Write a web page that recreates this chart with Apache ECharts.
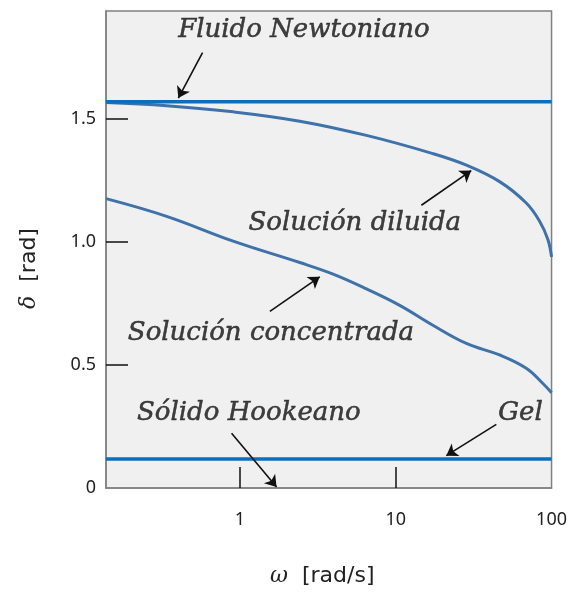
<!DOCTYPE html>
<html>
<head>
<meta charset="utf-8">
<script src="https://cdn.jsdelivr.net/npm/echarts@6/dist/echarts.min.js"></script>
<style>
html,body{margin:0;padding:0;background:#fff;}
#main{width:570px;height:592px;}
</style>
</head>
<body>
<div id="main"></div>
<script>
// ---- data ----
const xTickLabels = [1, 10, 100];
const xTickMarks = [1, 10];
const yTickLabels = ['0', '0.5', '1.0', '1.5'];
const yTickMarks = [0.5, 1.0, 1.5];
const newtonian = [[0.138, 1.5708], [100, 1.5708]];
const hookean = [[0.138, 0.118], [100, 0.118]];
const diluteOmega = [0.138, 0.338, 0.904, 2.42, 6.48, 17.3, 28.4, 46.4, 68.8, 83.8, 94.7, 100];
const diluteDelta = [1.568, 1.555, 1.530, 1.492, 1.434, 1.360, 1.313, 1.246, 1.159, 1.085, 1.011, 0.940];
const concOmega = [0.138, 0.338, 0.904, 2.42, 3.96, 6.48, 10.6, 17.3, 28.4, 46.4, 68.8, 88.0, 100];
const concDelta = [1.177, 1.105, 1.004, 0.917, 0.870, 0.810, 0.743, 0.662, 0.588, 0.541, 0.487, 0.425, 0.387];
// annotation texts: [omega, delta, text]
const labels = [
  [2.57, 1.862, 'Fluido Newtoniano'],
  [5.46, 1.076, 'Solución diluida'],
  [1.58, 0.630, 'Solución concentrada'],
  [1.14, 0.304, 'Sólido Hookeano'],
  [63.2, 0.304, 'Gel']
];
// arrows: [tailOmega, tailDelta, tipOmega, tipDelta]
const arrows = [
  [0.575, 1.771, 0.402, 1.586],
  [14.6, 1.150, 30.5, 1.291],
  [1.556, 0.7185, 3.25, 0.859],
  [0.883, 0.2228, 1.717, 0.004],
  [44.2, 0.259, 21.1, 0.1315]
];

const zip = (a, b) => a.map((v, i) => [v, b[i]]);

const chart = echarts.init(document.getElementById('main'));
const option = {
  animation: false,
  grid: {
    left: 106, top: 11, right: 18, bottom: 99,
    show: true, backgroundColor: '#f0f0f0', borderColor: '#808080', borderWidth: 1.5
  },
  xAxis: {
    type: 'log', logBase: 10, min: 0.138, max: 100,
    name: '{i|ω}  [rad/s]', nameLocation: 'middle', nameGap: 77,
    nameTextStyle: {
      fontFamily: 'DejaVu Sans', fontSize: 22, color: '#222', padding: [0, 13, 0, 0],
      rich: { i: { fontFamily: 'DejaVu Serif', fontStyle: 'italic', fontSize: 22, color: '#222' } }
    },
    axisLine: { show: true, lineStyle: { color: '#808080', width: 1.5 } },
    axisTick: { show: true, inside: true, length: 21, customValues: xTickMarks, lineStyle: { color: '#111', width: 1.5 } },
    axisLabel: {
      margin: 23, fontFamily: 'Noto Sans', fontSize: 18, color: '#222',
      customValues: xTickLabels,
      formatter: v => {
        const m = xTickLabels.find(t => Math.abs(v - t) / t < 1e-6);
        return m !== undefined ? String(m) : '';
      }
    },
    splitLine: { show: false }, minorTick: { show: false }
  },
  yAxis: {
    type: 'value', min: 0, max: 1.94, interval: 0.5,
    name: '{i|δ}  [rad]', nameLocation: 'middle', nameGap: 66,
    nameTextStyle: {
      fontFamily: 'DejaVu Sans', fontSize: 22, color: '#222', padding: [0, 38, 0, 0],
      rich: { i: { fontFamily: 'DejaVu Serif', fontStyle: 'italic', fontSize: 22, color: '#222' } }
    },
    axisLine: { show: true, lineStyle: { color: '#808080', width: 1.5 } },
    axisTick: { show: true, inside: true, length: 22, customValues: yTickMarks, lineStyle: { color: '#111', width: 1.5 } },
    axisLabel: {
      margin: 10, fontFamily: 'Noto Sans', fontSize: 18, color: '#222',
      customValues: [0, 0.5, 1.0, 1.5],
      formatter: v => {
        const idx = Math.round(v / 0.5);
        if (Math.abs(v - idx * 0.5) < 1e-6 && idx < yTickLabels.length) return yTickLabels[idx];
        return '';
      }
    },
    splitLine: { show: false }
  },
  series: [
    {
      type: 'line', data: newtonian, showSymbol: false, symbol: 'none',
      lineStyle: { color: '#0870c0', width: 3.5 }, z: 3
    },
    {
      type: 'line', data: hookean, showSymbol: false, symbol: 'none',
      lineStyle: { color: '#0870c0', width: 3.5 }, z: 3
    },
    {
      type: 'line', data: zip(diluteOmega, diluteDelta), showSymbol: false, symbol: 'none', smooth: 0.4,
      lineStyle: { color: '#3e72a8', width: 3 }, z: 2
    },
    {
      type: 'line', data: zip(concOmega, concDelta), showSymbol: false, symbol: 'none', smooth: 0.4,
      lineStyle: { color: '#3e72a8', width: 3 }, z: 2
    },
    {
      type: 'scatter', symbolSize: 0, z: 5,
      data: labels.map(l => ({ value: [l[0], l[1]], name: l[2] })),
      label: {
        show: true, position: 'inside', formatter: p => p.name,
        fontFamily: 'DejaVu Serif', fontStyle: 'italic', fontSize: 26, color: '#111',
        textBorderColor: '#111', textBorderWidth: 0.5
      },
      silent: true,
      markLine: {
        silent: true, symbol: ['none', 'arrow'], symbolSize: 11, precision: 4,
        label: { show: false },
        itemStyle: { color: '#111' },
        lineStyle: { color: '#111', width: 1.6, type: 'solid' },
        emphasis: { disabled: true },
        data: arrows.map(a => [{ coord: [a[0], a[1]] }, { coord: [a[2], a[3]] }])
      }
    }
  ]
};
chart.setOption(option);
</script>
</body>
</html>
